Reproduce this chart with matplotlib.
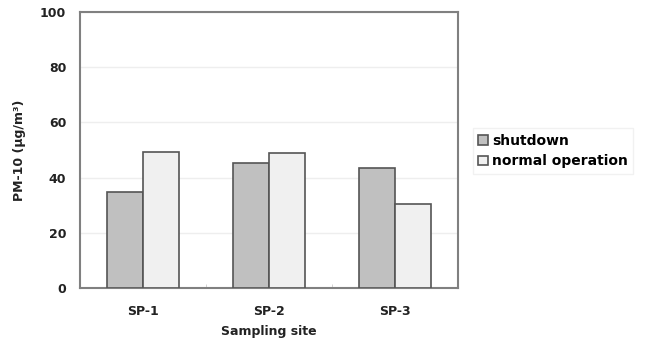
import numpy as np
import matplotlib.pyplot as plt

sites = ['SP-1', 'SP-2', 'SP-3']
shutdown = [34.9, 45.4, 43.4]
normal = [49.4, 49.0, 30.3]

plt.rcParams['font.family'] = ['DejaVu Sans']
plt.rcParams['font.weight'] = 'bold'

fig = plt.figure(figsize=(6.48, 3.45), dpi=100)
ax = fig.add_axes([0.1235, 0.1652, 0.5833, 0.8])

x = np.arange(len(sites))
w = 0.285
ax.bar(x - w/2, shutdown, w, color='#c0c0c0', edgecolor='#555555', linewidth=1.2, label='shutdown', zorder=3)
ax.bar(x + w/2, normal, w, color='#f0f0f0', edgecolor='#555555', linewidth=1.2, label='normal operation', zorder=3)

ax.set_xlim(-0.5, 2.5)
ax.set_ylim(0, 100)
ax.set_yticks(range(0, 101, 20))
ax.set_xticks(x)
ax.set_xticklabels(sites, fontsize=9, fontweight='bold', color='#222222')
ax.tick_params(axis='y', labelsize=9, colors='#222222', length=0, pad=10)
ax.tick_params(axis='x', length=0, pad=12)
ax.set_xticks([0.5, 1.5], minor=True)
ax.tick_params(axis='x', which='minor', length=3, direction='in', color='#cccccc')
ax.grid(axis='y', color='#eeeeee', linewidth=1, zorder=0)
for s in ax.spines.values():
    s.set_color('#808080')
    s.set_linewidth(1.5)

ax.set_ylabel('PM-10 (μg/m³)', fontsize=9, fontweight='bold', color='#222222', labelpad=10)
ax.set_xlabel('Sampling site', fontsize=9, fontweight='bold', color='#222222', labelpad=5)

leg = ax.legend(loc='upper left', bbox_to_anchor=(1.02, 0.605), fontsize=10, frameon=True,
                handlelength=0.7, handleheight=0.7, handletextpad=0.3, borderpad=0.4,
                labelspacing=0.5, fancybox=False)
leg.get_frame().set_edgecolor('#eeeeee')
leg.get_frame().set_linewidth(1)

fig.savefig('out.png', dpi=100)
